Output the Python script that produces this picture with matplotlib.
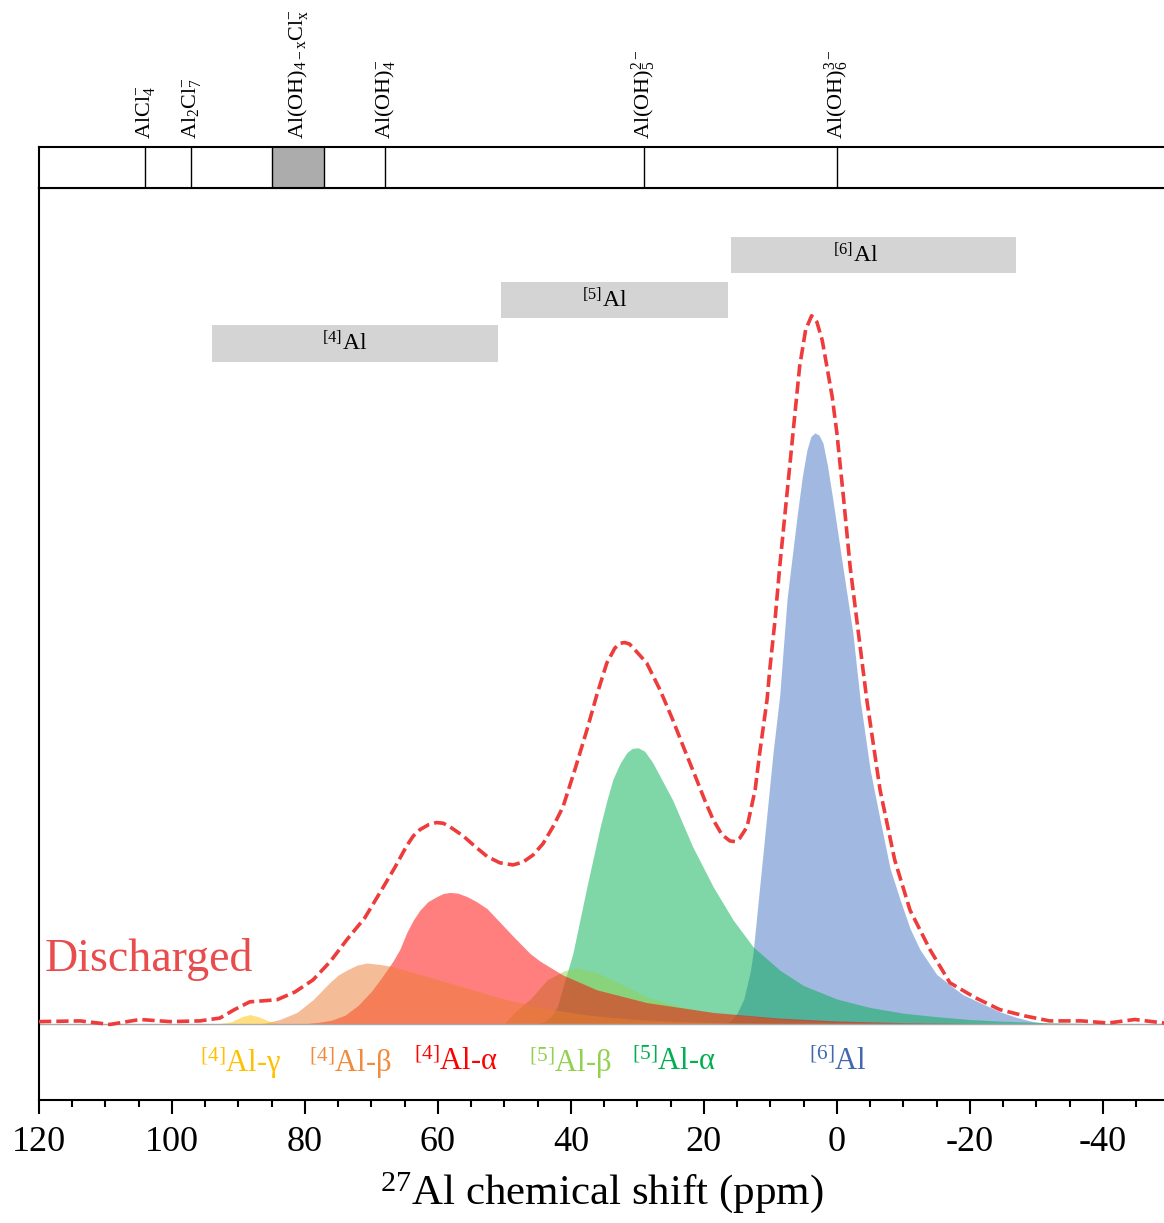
import numpy as np
import matplotlib.pyplot as plt
from matplotlib.patches import Rectangle
from matplotlib.ticker import MultipleLocator

plt.rcParams['font.family'] = 'Liberation Serif'
plt.rcParams['mathtext.fontset'] = 'custom'
plt.rcParams['mathtext.rm'] = 'Liberation Serif'
plt.rcParams['mathtext.it'] = 'Liberation Serif:italic'
plt.rcParams['axes.unicode_minus'] = False

# %% data (ppm, intensity a.u.)
total_ppm = [120.0, 113.8, 109.3, 104.8, 100.3, 95.8, 92.8, 90.6, 88.3, 84.2, 81.5, 78.8, 76.2,
             73.7, 71.0, 68.7, 66.5, 64.7, 63.7, 62.7, 61.4, 60.2, 59.2, 58.2, 56.2, 54.4, 52.6,
             50.7, 48.7, 47.2, 45.7, 44.2, 42.7, 41.2, 39.4, 37.6, 36.1, 34.6, 33.4, 32.6, 31.9,
             31.2, 30.4, 28.6, 26.6, 24.7, 22.9, 21.1, 19.8, 18.6, 17.3, 16.1, 15.3, 14.6, 13.5,
             12.3, 11.6, 10.5, 10.1, 9.3, 8.6, 7.1, 6.3, 5.6, 4.7, 3.8, 3.0, 2.2, 1.5, 0.7, 0.0,
             -1.0, -2.0, -4.5, -6.5, -8.7, -11.0, -14.0, -17.0, -20.8, -24.5, -28.3, -32.0,
             -36.8, -40.8, -44.8, -49.2]
total_int = [0.3, 0.4, -0.1, 0.6, 0.3, 0.4, 0.8, 2.0, 3.1, 3.4, 4.5, 6.2, 8.8,
             11.9, 15.0, 18.6, 22.1, 25.2, 26.6, 27.5, 28.2, 28.5, 28.4, 27.9, 26.6, 25.1, 23.7,
             22.8, 22.5, 22.9, 23.9, 25.5, 27.9, 30.7, 36.0, 41.6, 46.6, 51.1, 53.2, 53.9, 54.0,
             53.8, 53.0, 51.1, 47.3, 43.1, 38.8, 34.6, 31.5, 28.9, 26.8, 25.9, 25.8, 26.3, 27.9,
             33.1, 38.4, 45.9, 50.1, 57.2, 64.7, 78.9, 86.5, 93.1, 98.3, 100.3, 99.4, 96.8, 93.1, 88.8, 83.7,
             74.5, 64.7, 45.9, 33.1, 23.2, 16.1, 10.5, 5.8, 3.7, 2.0, 1.1, 0.4,
             0.4, 0.1, 0.6, 0.1]

al6_ppm = [17.0, 16.0, 15.0, 14.0, 13.0, 12.6, 11.1, 9.6, 8.6, 7.5, 6.0, 5.2, 4.5, 3.9, 3.3, 2.7,
           2.1, 1.4, 0.6, -0.9, -2.4, -3.5, -5.0, -6.5, -8.0, -9.5, -11.0, -12.5, -15.0, -17.0,
           -19.0, -21.5, -24.5, -27.0, -29.5, -32.0]
al6_int = [0.0, 0.3, 1.5, 3.5, 7.5, 10.1, 24.2, 38.4, 46.5, 60.1, 71.8, 77.5, 81.3, 83.2, 83.7, 83.4,
           82.3, 79.0, 74.2, 64.7, 55.4, 45.9, 36.0, 28.9, 22.0, 17.6, 13.5, 10.5, 7.0, 5.5,
           4.1, 3.0, 1.7, 0.9, 0.3, 0.0]

al5a_ppm = [45.0, 44.0, 43.0, 42.0, 41.2, 39.7, 37.6, 35.6, 34.6, 33.7, 32.6, 31.6, 30.8, 29.9,
            28.9, 27.7, 24.7, 21.7, 18.6, 15.6, 12.6, 8.6, 5.0, 0.0, -5.0, -10.0, -15.0, -20.0,
            -25.0, -30.0, -35.0, -40.0]
al5a_int = [0.0, 0.3, 1.0, 2.5, 5.2, 10.0, 19.4, 27.9, 31.6, 34.6, 36.9, 38.4, 39.0, 39.1,
            38.6, 37.0, 31.7, 25.1, 19.4, 14.7, 10.9, 7.6, 5.4, 3.5, 2.3, 1.5, 1.0, 0.6,
            0.35, 0.2, 0.1, 0.0]

al5b_ppm = [50.0, 48.7, 46.0, 43.6, 41.0, 39.0, 36.0, 33.7, 28.6, 23.6, 18.6, 13.5, 8.0, 0.0, -10.0]
al5b_int = [0.0, 1.4, 3.6, 6.2, 7.5, 7.9, 7.2, 6.2, 3.8, 2.4, 1.5, 1.1, 0.6, 0.2, 0.0]

al4a_ppm = [80.0, 78.0, 76.0, 74.0, 72.0, 70.0, 68.5, 66.8, 65.7, 64.7, 63.7, 62.7, 61.5, 60.2,
            59.2, 58.2, 57.0, 55.6, 54.2, 52.6, 48.7, 46.2, 44.7, 41.2, 36.1, 28.6, 18.6, 8.6,
            0.0, -10.0, -20.0, -30.0]
al4a_int = [0.0, 0.2, 0.5, 1.2, 2.6, 4.6, 6.5, 8.8, 10.6, 12.9, 14.7, 16.1, 17.3, 18.0,
            18.45, 18.6, 18.5, 18.0, 17.3, 16.3, 12.4, 10.0, 8.9, 6.9, 4.8, 3.0, 1.6, 0.8,
            0.4, 0.15, 0.05, 0.0]

al4b_ppm = [87.0, 86.0, 83.8, 81.2, 78.8, 76.2, 75.0, 73.7, 72.2, 70.7, 68.7, 66.8, 64.0, 62.0,
            58.0, 54.0, 50.0, 46.0, 42.0, 38.0, 34.0, 30.0, 25.0, 20.0, 10.0, 0.0]
al4b_int = [0.0, 0.1, 0.6, 1.6, 3.4, 5.9, 6.9, 7.6, 8.3, 8.6, 8.4, 8.1, 7.3, 6.8,
            5.7, 4.6, 3.5, 2.6, 1.9, 1.3, 0.9, 0.6, 0.35, 0.2, 0.05, 0.0]

al4g_ppm = [93.0, 91.0, 89.5, 88.3, 87.0, 85.5, 84.0]
al4g_int = [0.0, 0.3, 1.0, 1.3, 1.0, 0.4, 0.0]

# fit components, drawn in this order
components = [
    (al6_ppm, al6_int, '#4472C4'),
    (al5a_ppm, al5a_int, '#00B050'),
    (al5b_ppm, al5b_int, '#92D050'),
    (al4a_ppm, al4a_int, '#FF0000'),
    (al4b_ppm, al4b_int, '#ED7D31'),
    (al4g_ppm, al4g_int, '#FFC000'),
]

comp_labels = [r'$^{[4]}$Al-γ', r'$^{[4]}$Al-β', r'$^{[4]}$Al-α',
               r'$^{[5]}$Al-β', r'$^{[5]}$Al-α', r'$^{[6]}$Al']
comp_label_ppm = [89.6, 73.2, 57.3, 40.0, 24.5, -0.2]
comp_label_colors = ['#FFC000', '#F08A3C', '#FF0000', '#92D050', '#00B050', '#4468B0']

# coordination ranges (grey boxes)
range_labels = [r'$^{[4]}$Al', r'$^{[5]}$Al', r'$^{[6]}$Al']
range_hi = [94.0, 50.5, 15.9]
range_lo = [51.0, 16.4, -27.0]
range_label_ppm = [74.0, 35.0, -2.8]
range_bottom = [93.8, 100.0, 106.4]
range_top = [99.0, 105.1, 111.5]

# reference species shifts
ref_labels = [r'AlCl$_4^{-}$', r'Al$_2$Cl$_7^{-}$', r'Al(OH)$_{\mathrm{4-x}}$Cl$_{\mathrm{x}}^{-}$',
              r'Al(OH)$_4^{-}$', r'Al(OH)$_5^{2-}$', r'Al(OH)$_6^{3-}$']
ref_ppm = [104.0, 97.1, 81.0, 68.0, 29.0, 0.0]
ref_band = (85.0, 77.1)

# %% plot
fig = plt.figure(figsize=(11.64, 12.23), dpi=100)
ax = fig.add_axes([0.0335, 0.1006, 0.9665, 0.7457])
strip = fig.add_axes([0.0335, 0.8463, 0.9665, 0.0335])

xlim = (120, -49.2)

for p, v, c in components:
    ax.fill_between(p, 0, v, color=c, alpha=0.5, lw=0)

ax.axhline(0, color='#A8A8A8', lw=1, zorder=1)
ax.plot(total_ppm, total_int, color='#EE3B3B', lw=2.6, dashes=(3.4, 1.4), zorder=5)

for lab, hi, lo, b, t, lx in zip(range_labels, range_hi, range_lo, range_bottom, range_top,
                                 range_label_ppm):
    ax.add_patch(Rectangle((lo, b), hi - lo, t - b, facecolor='#D4D4D4', edgecolor='none'))
    ax.text(lx, (b + t) / 2, lab, ha='center', va='center', fontsize=17)

for lab, xp, c in zip(comp_labels, comp_label_ppm, comp_label_colors):
    ax.text(xp, -5.4, lab, ha='center', va='center', fontsize=22, color=c)

ax.text(119.2, 7.4, 'Discharged', ha='left', va='baseline', fontsize=33, color='#E84C4C')

ax.set_xlim(*xlim)
ax.set_ylim(-10.8, 118.4)
ax.set_yticks([])
ax.xaxis.set_major_locator(MultipleLocator(20))
ax.xaxis.set_minor_locator(MultipleLocator(5))
ax.tick_params(axis='x', which='major', direction='out', length=10, width=1.5,
               labelsize=26, pad=9)
ax.tick_params(axis='x', which='minor', direction='out', length=5, width=1.5)
ax.spines['right'].set_visible(False)
for s in ['left', 'bottom', 'top']:
    ax.spines[s].set_linewidth(1.5)
ax.set_xlabel(r'$^{27}$Al chemical shift (ppm)', fontsize=31, labelpad=8)

# reference strip
strip.set_xlim(*xlim)
strip.set_ylim(0, 1)
strip.axvspan(ref_band[0], ref_band[1], color='#ACACAC', lw=0)
for xp in [ref_band[0], ref_band[1]] + [r for r in ref_ppm if r != 81.0]:
    strip.axvline(xp, color='black', lw=1)
for lab, xp in zip(ref_labels, ref_ppm):
    strip.text(xp, 1.2, lab, rotation=90, ha='center', va='bottom', fontsize=16)
strip.set_xticks([])
strip.set_yticks([])
strip.spines['right'].set_visible(False)
for s in ['left', 'bottom', 'top']:
    strip.spines[s].set_linewidth(1.5)

fig.savefig('out.png', dpi=100)
